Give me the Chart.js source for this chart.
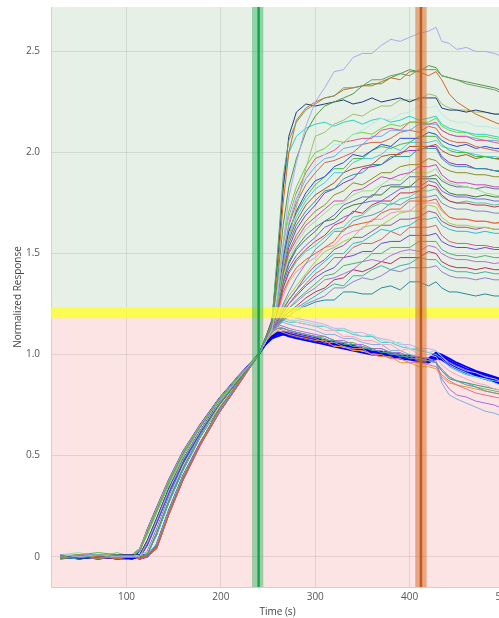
<!DOCTYPE html>
<html>
<head>
<meta charset="utf-8">
<style>
  html, body { margin: 0; padding: 0; background: #ffffff; overflow: hidden; }
  #wrap { width: 520px; height: 618px; }
</style>
<script src="https://cdn.jsdelivr.net/npm/chart.js@4/dist/chart.umd.min.js"></script>
</head>
<body>
<div id="wrap"><canvas id="sensorgram" width="520" height="618"></canvas></div>
<script>
// Sampling times (s) shared by every trace
const TIME = [30,50,70,90,106,114,122,132,145,160,178,198,220,
  240,247,254,260,266,272,280,290,300,310,320,330,340,350,360,370,380,390,400,410,420,428,434,442,450,460,470,480,490,500];

// Axis ticks and reference markers
const X_TICKS = [100, 200, 300, 400, 500];
const Y_TICKS = [0, 0.5, 1, 1.5, 2, 2.5];
const X_RANGE = [20, 500];
const Y_RANGE = [-0.15, 2.72];
const SPLIT_LEVEL = 1.2;
const THRESHOLD_BAND = [1.18, 1.235];
const INJECTION = [233, 245, 240];
const WASH = [406, 418, 412];

// Normalized responses, one array per well
const w01 = [0.01,0.00,0.01,0.00,0.00,0.00,0.07,0.18,0.33,0.48,0.62,0.76,0.89, 1.00,1.06,1.12,1.28,1.55,1.78,1.95,2.13,2.25, 2.32,2.40,2.41,2.47,2.49,2.49,2.53,2.56,2.55,2.57,2.59,2.60, 2.62,2.55,2.54, 2.51,2.52,2.50,2.50,2.49,2.47];
const w02 = [0.00,0.01,-0.01,0.01,0.00,0.03,0.12,0.23,0.37,0.51,0.64,0.78,0.90, 1.00,1.08,1.16,1.50,1.88,2.06,2.15,2.21,2.24, 2.27,2.28,2.32,2.32,2.33,2.36,2.36,2.38,2.39,2.38,2.41,2.41, 2.41,2.38,2.37, 2.36,2.34,2.33,2.32,2.31,2.29];
const w03 = [-0.01,0.00,0.01,0.00,0.00,0.00,0.01,0.12,0.28,0.44,0.60,0.75,0.88, 1.00,1.07,1.14,1.37,1.64,1.83,1.97,2.10,2.18, 2.23,2.25,2.27,2.29,2.33,2.34,2.34,2.37,2.39,2.41,2.40,2.43, 2.42,2.38,2.37, 2.36,2.35,2.34,2.33,2.32,2.30];
const w04 = [0.00,0.01,0.00,-0.01,0.00,0.00,0.00,0.05,0.22,0.39,0.56,0.73,0.87, 1.00,1.07,1.14,1.40,1.75,2.00,2.16,2.22,2.25, 2.27,2.28,2.31,2.32,2.33,2.33,2.35,2.37,2.36,2.40,2.40,2.38, 2.40,2.36,2.29, 2.25,2.22,2.19,2.17,2.15,2.13];
const w05 = [0.01,-0.01,0.00,0.01,0.01,0.01,0.08,0.19,0.34,0.48,0.62,0.75,0.88, 1.00,1.08,1.17,1.45,1.82,2.08,2.20,2.24,2.23, 2.24,2.25,2.26,2.24,2.25,2.27,2.25,2.26,2.27,2.25,2.27,2.27, 2.27,2.22,2.21, 2.21,2.20,2.21,2.20,2.19,2.19];
const w06 = [0.00,0.00,0.01,0.01,0.01,0.04,0.13,0.24,0.38,0.52,0.65,0.78,0.90, 1.00,1.06,1.12,1.25,1.43,1.58,1.73,1.92,2.08, 2.10,2.14,2.16,2.19,2.18,2.21,2.23,2.23,2.26,2.26,2.26,2.29, 2.28,2.24,2.22, 2.21,2.21,2.20,2.20,2.19,2.19];
const w07 = [0.01,0.01,0.00,0.00,0.00,0.01,0.02,0.13,0.29,0.45,0.60,0.74,0.88, 1.00,1.07,1.13,1.31,1.52,1.67,1.79,1.88,1.95, 1.99,2.04,2.04,2.09,2.11,2.14,2.17,2.16,2.19,2.20,2.23,2.22, 2.23,2.19,2.16, 2.15,2.15,2.13,2.13,2.12,2.12];
const w08 = [0.00,-0.01,0.01,0.00,0.01,0.00,0.01,0.06,0.23,0.40,0.56,0.72,0.87, 1.00,1.08,1.15,1.50,1.84,2.00,2.08,2.12,2.14, 2.15,2.13,2.15,2.16,2.14,2.16,2.17,2.15,2.16,2.18,2.16,2.17, 2.18,2.14,2.12, 2.11,2.10,2.09,2.09,2.08,2.07];
const w09 = [0.01,0.00,0.00,0.02,0.00,0.03,0.11,0.22,0.36,0.50,0.64,0.77,0.89, 1.00,1.07,1.14,1.33,1.55,1.71,1.83,1.93,2.00, 2.02,2.06,2.05,2.09,2.10,2.09,2.12,2.14,2.13,2.15,2.15,2.15, 2.17,2.13,2.11, 2.10,2.10,2.08,2.08,2.07,2.06];
const w10 = [-0.01,0.01,0.00,0.01,0.00,0.00,0.07,0.18,0.33,0.48,0.62,0.76,0.89, 1.00,1.06,1.13,1.31,1.53,1.68,1.80,1.90,1.97, 1.99,2.01,2.05,2.06,2.07,2.07,2.11,2.12,2.11,2.15,2.15,2.14, 2.15,2.11,2.09, 2.08,2.08,2.06,2.06,2.05,2.04];
const w11 = [0.00,0.01,0.01,-0.01,0.01,0.00,0.01,0.11,0.27,0.43,0.59,0.74,0.87, 1.00,1.06,1.12,1.30,1.51,1.65,1.77,1.87,1.93, 1.97,1.98,2.02,2.03,2.04,2.08,2.08,2.11,2.11,2.11,2.14,2.14, 2.14,2.11,2.09, 2.08,2.08,2.07,2.06,2.06,2.05];
const w12 = [0.01,0.00,-0.01,0.00,0.00,-0.01,0.00,0.04,0.21,0.38,0.55,0.71,0.86, 1.00,1.07,1.14,1.31,1.50,1.64,1.75,1.84,1.90, 1.95,1.96,1.98,2.00,2.04,2.05,2.05,2.07,2.10,2.11,2.10,2.13, 2.12,2.08,2.06, 2.05,2.05,2.03,2.02,2.01,2.00];
const w13 = [0.00,-0.01,0.00,0.01,0.00,0.00,0.06,0.17,0.32,0.47,0.61,0.76,0.89, 1.00,1.06,1.13,1.29,1.48,1.61,1.71,1.80,1.86, 1.88,1.93,1.95,1.99,1.98,2.01,2.04,2.03,2.07,2.07,2.07,2.10, 2.09,2.06,2.04, 2.03,2.04,2.02,2.03,2.02,2.02];
const w14 = [0.01,0.01,0.02,0.01,0.00,0.03,0.12,0.23,0.37,0.51,0.64,0.78,0.90, 1.00,1.08,1.15,1.30,1.48,1.61,1.70,1.78,1.84, 1.88,1.92,1.92,1.97,1.97,2.01,2.03,2.02,2.04,2.05,2.08,2.08, 2.08,2.04,2.01, 2.00,2.00,1.98,1.98,1.97,1.96];
const w15 = [0.00,0.00,-0.01,0.01,0.00,0.00,0.01,0.12,0.28,0.44,0.60,0.75,0.88, 1.00,1.06,1.12,1.27,1.46,1.58,1.68,1.76,1.82, 1.85,1.90,1.90,1.95,1.97,1.97,1.99,2.03,2.01,2.05,2.05,2.05, 2.06,2.03,2.02, 2.01,2.00,1.99,1.98,1.98,1.97];
const w16 = [0.01,0.01,0.00,0.00,0.00,0.00,0.00,0.05,0.22,0.39,0.56,0.73,0.87, 1.00,1.07,1.13,1.28,1.45,1.57,1.66,1.74,1.79, 1.82,1.85,1.90,1.92,1.93,1.94,1.98,1.99,1.99,2.03,2.03,2.03, 2.04,2.01,1.99, 1.98,1.99,1.97,1.98,1.97,1.97];
const w17 = [0.00,0.01,0.00,0.00,0.01,0.01,0.08,0.19,0.34,0.48,0.62,0.75,0.88, 1.00,1.07,1.14,1.28,1.44,1.55,1.64,1.71,1.76, 1.81,1.82,1.87,1.89,1.90,1.94,1.94,1.98,1.98,1.98,2.02,2.02, 2.02,1.97,1.94, 1.93,1.93,1.92,1.92,1.91,1.91];
const w18 = [-0.01,0.00,0.01,0.00,0.01,0.04,0.13,0.24,0.38,0.52,0.65,0.78,0.90, 1.00,1.06,1.13,1.26,1.42,1.53,1.62,1.69,1.74, 1.80,1.82,1.85,1.87,1.92,1.93,1.94,1.97,2.00,2.01,2.01,2.03, 2.03,1.98,1.95, 1.94,1.94,1.92,1.92,1.91,1.90];
const w19 = [0.01,0.00,0.01,0.01,0.00,0.01,0.02,0.13,0.29,0.45,0.60,0.74,0.88, 1.00,1.07,1.12,1.25,1.40,1.51,1.59,1.66,1.71, 1.74,1.79,1.81,1.85,1.84,1.87,1.90,1.90,1.93,1.94,1.94,1.97, 1.96,1.93,1.91, 1.90,1.90,1.89,1.89,1.88,1.88];
const w20 = [0.00,0.00,0.00,0.01,0.01,0.00,0.01,0.06,0.23,0.40,0.56,0.72,0.87, 1.00,1.06,1.14,1.26,1.40,1.50,1.57,1.64,1.68, 1.72,1.76,1.76,1.81,1.82,1.85,1.88,1.87,1.89,1.90,1.93,1.93, 1.94,1.89,1.86, 1.85,1.85,1.84,1.84,1.83,1.83];
const w21 = [0.01,0.02,0.00,0.01,0.00,0.03,0.11,0.22,0.36,0.50,0.64,0.77,0.89, 1.00,1.07,1.13,1.25,1.38,1.48,1.55,1.62,1.66, 1.70,1.74,1.75,1.79,1.81,1.81,1.84,1.87,1.86,1.90,1.90,1.90, 1.92,1.87,1.85, 1.84,1.83,1.82,1.80,1.79,1.78];
const w22 = [0.00,0.00,0.01,-0.01,0.00,0.00,0.06,0.17,0.32,0.47,0.61,0.76,0.89, 1.00,1.06,1.12,1.23,1.36,1.46,1.53,1.59,1.63, 1.66,1.69,1.74,1.76,1.78,1.78,1.83,1.84,1.84,1.88,1.88,1.88, 1.89,1.86,1.84, 1.83,1.83,1.82,1.83,1.82,1.82];
const w23 = [0.01,0.00,0.00,0.01,0.01,0.00,0.01,0.11,0.27,0.43,0.59,0.74,0.87, 1.00,1.07,1.14,1.24,1.37,1.45,1.52,1.57,1.61, 1.66,1.67,1.72,1.74,1.75,1.79,1.79,1.83,1.83,1.83,1.87,1.87, 1.87,1.83,1.80, 1.79,1.79,1.78,1.79,1.78,1.78];
const w24 = [0.00,0.01,-0.01,0.00,0.00,-0.01,0.00,0.04,0.21,0.38,0.55,0.71,0.86, 1.00,1.06,1.13,1.23,1.35,1.43,1.49,1.54,1.58, 1.63,1.65,1.68,1.70,1.75,1.76,1.76,1.79,1.82,1.83,1.83,1.86, 1.85,1.81,1.79, 1.78,1.78,1.77,1.77,1.76,1.76];
const w25 = [0.01,0.00,0.00,0.00,0.00,0.00,0.07,0.18,0.33,0.48,0.62,0.76,0.89, 1.00,1.06,1.12,1.22,1.33,1.41,1.47,1.52,1.56, 1.59,1.64,1.66,1.71,1.70,1.74,1.76,1.76,1.80,1.80,1.81,1.84, 1.83,1.79,1.76, 1.75,1.75,1.74,1.74,1.73,1.74];
const w26 = [0.00,0.01,0.01,0.00,0.00,0.03,0.12,0.23,0.37,0.51,0.64,0.78,0.90, 1.00,1.07,1.14,1.23,1.33,1.40,1.46,1.51,1.54, 1.58,1.62,1.63,1.68,1.69,1.73,1.75,1.74,1.77,1.78,1.81,1.81, 1.82,1.78,1.76, 1.75,1.76,1.75,1.75,1.74,1.75];
const w27 = [-0.01,0.00,0.00,0.01,0.00,0.00,0.01,0.12,0.28,0.44,0.60,0.75,0.88, 1.00,1.06,1.12,1.18,1.25,1.31,1.38,1.45,1.52, 1.56,1.61,1.61,1.66,1.68,1.69,1.71,1.75,1.74,1.77,1.78,1.78, 1.79,1.75,1.73, 1.72,1.72,1.71,1.71,1.70,1.70];
const w28 = [0.01,0.00,0.01,0.00,0.00,0.00,0.00,0.05,0.22,0.39,0.56,0.73,0.87, 1.00,1.07,1.13,1.21,1.31,1.37,1.43,1.47,1.50, 1.53,1.56,1.62,1.64,1.65,1.66,1.70,1.72,1.72,1.76,1.76,1.76, 1.77,1.72,1.68, 1.67,1.67,1.66,1.66,1.65,1.66];
const w29 = [0.00,0.01,0.00,0.01,0.01,0.01,0.08,0.19,0.34,0.48,0.62,0.75,0.88, 1.00,1.06,1.12,1.20,1.29,1.36,1.41,1.45,1.48, 1.53,1.54,1.59,1.61,1.62,1.67,1.67,1.70,1.71,1.71,1.75,1.75, 1.75,1.71,1.68, 1.67,1.67,1.66,1.66,1.65,1.65];
const w30 = [0.01,0.00,0.01,0.00,0.01,0.04,0.13,0.24,0.38,0.52,0.65,0.78,0.90, 1.00,1.07,1.13,1.18,1.24,1.29,1.34,1.40,1.46, 1.51,1.53,1.56,1.58,1.63,1.64,1.64,1.67,1.70,1.71,1.71,1.74, 1.73,1.68,1.65, 1.64,1.64,1.63,1.63,1.62,1.62];
const w31 = [0.00,-0.01,0.01,0.00,0.00,0.01,0.02,0.13,0.29,0.45,0.60,0.74,0.88, 1.00,1.06,1.12,1.16,1.22,1.27,1.32,1.39,1.44, 1.47,1.52,1.54,1.58,1.58,1.61,1.64,1.64,1.67,1.67,1.68,1.71, 1.70,1.66,1.64, 1.63,1.63,1.62,1.63,1.62,1.62];
const w32 = [0.01,0.01,0.00,0.00,0.01,0.00,0.01,0.06,0.23,0.40,0.56,0.72,0.87, 1.00,1.07,1.14,1.18,1.23,1.27,1.32,1.37,1.42, 1.46,1.50,1.50,1.55,1.56,1.59,1.62,1.61,1.63,1.64,1.67,1.67, 1.68,1.64,1.62, 1.61,1.61,1.60,1.61,1.60,1.60];
const w33 = [0.00,0.00,0.00,0.01,0.00,0.00,0.06,0.17,0.32,0.47,0.61,0.76,0.89, 1.00,1.06,1.12,1.16,1.21,1.25,1.30,1.35,1.40, 1.43,1.48,1.48,1.53,1.55,1.55,1.57,1.61,1.59,1.63,1.63,1.63, 1.64,1.59,1.56, 1.55,1.55,1.54,1.54,1.53,1.53];
const w34 = [0.01,0.00,-0.01,0.01,0.00,0.03,0.11,0.22,0.36,0.50,0.64,0.77,0.89, 1.00,1.07,1.13,1.17,1.21,1.25,1.29,1.34,1.38, 1.41,1.43,1.48,1.49,1.51,1.51,1.55,1.56,1.56,1.59,1.59,1.59, 1.60,1.56,1.54, 1.53,1.53,1.52,1.53,1.52,1.52];
const w35 = [0.00,0.01,0.00,0.00,0.01,0.00,0.01,0.11,0.27,0.43,0.59,0.74,0.87, 1.00,1.06,1.12,1.15,1.19,1.23,1.27,1.31,1.35, 1.39,1.40,1.44,1.45,1.46,1.50,1.50,1.53,1.53,1.53,1.56,1.56, 1.56,1.52,1.50, 1.49,1.49,1.48,1.49,1.48,1.48];
const w36 = [0.01,0.00,0.00,0.01,0.00,-0.01,0.00,0.04,0.21,0.38,0.55,0.71,0.86, 1.00,1.07,1.13,1.16,1.19,1.23,1.26,1.30,1.33, 1.37,1.38,1.40,1.42,1.46,1.47,1.46,1.49,1.51,1.52,1.51,1.54, 1.53,1.50,1.48, 1.47,1.47,1.46,1.46,1.45,1.46];
const w37 = [0.00,0.00,0.01,0.00,0.00,0.00,0.07,0.18,0.33,0.48,0.62,0.76,0.89, 1.00,1.06,1.12,1.15,1.18,1.21,1.24,1.28,1.31, 1.33,1.37,1.38,1.42,1.41,1.43,1.46,1.45,1.48,1.48,1.48,1.51, 1.50,1.46,1.44, 1.43,1.43,1.42,1.43,1.42,1.42];
const w38 = [0.01,0.01,0.00,0.01,0.00,0.03,0.12,0.23,0.37,0.51,0.64,0.78,0.90, 1.00,1.07,1.13,1.15,1.18,1.21,1.23,1.26,1.29, 1.32,1.35,1.34,1.39,1.39,1.42,1.44,1.42,1.44,1.45,1.48,1.47, 1.47,1.44,1.42, 1.41,1.41,1.40,1.41,1.40,1.40];
const w39 = [0.00,0.00,0.01,0.00,0.00,0.00,0.01,0.12,0.28,0.44,0.60,0.75,0.88, 1.00,1.06,1.12,1.14,1.17,1.19,1.22,1.25,1.27, 1.29,1.33,1.33,1.36,1.38,1.37,1.39,1.42,1.41,1.43,1.43,1.43, 1.44,1.41,1.39, 1.38,1.38,1.37,1.38,1.37,1.37];
const w40 = [0.00,0.01,0.00,0.00,0.00,0.00,0.00,0.05,0.22,0.39,0.56,0.73,0.87, 1.00,1.07,1.12,1.14,1.17,1.19,1.22,1.24,1.26, 1.27,1.27,1.31,1.31,1.30,1.30,1.33,1.34,1.32,1.36,1.36,1.34, 1.36,1.33,1.31, 1.31,1.30,1.29,1.30,1.29,1.29];
const w41 = [0.01,0.00,0.00,0.01,0.00,0.03,0.12,0.23,0.37,0.51,0.64,0.78,0.90, 1.00,1.08,1.15,1.18,1.18,1.17,1.17,1.16,1.15, 1.14,1.12,1.13,1.11,1.09,1.10,1.07,1.06,1.06,1.03,1.03,1.01, 1.02,0.99,0.95, 0.93,0.91,0.89,0.88,0.86,0.84];
const w42 = [0.00,0.01,0.01,0.00,0.01,0.01,0.08,0.19,0.34,0.48,0.62,0.75,0.88, 1.00,1.08,1.16,1.19,1.18,1.17,1.16,1.15,1.14, 1.12,1.12,1.09,1.09,1.07,1.07,1.05,1.05,1.02,1.03,1.00,1.00, 0.99,0.95,0.92, 0.90,0.88,0.86,0.85,0.83,0.82];
const w43 = [0.01,0.00,0.01,0.00,0.01,0.00,0.01,0.11,0.27,0.43,0.59,0.74,0.87, 1.00,1.06,1.11,1.13,1.13,1.12,1.11,1.10,1.09, 1.08,1.06,1.06,1.04,1.04,1.02,1.02,1.00,1.00,0.98,0.98,0.97, 0.96,0.92,0.89, 0.87,0.85,0.84,0.82,0.81,0.80];
const w44 = [0.00,0.00,0.01,0.01,0.00,-0.01,0.00,0.04,0.21,0.38,0.55,0.71,0.86, 1.00,1.07,1.12,1.13,1.12,1.11,1.10,1.09,1.08, 1.06,1.06,1.04,1.03,1.03,1.00,1.00,0.98,0.98,0.96,0.96,0.95, 0.94,0.90,0.87, 0.85,0.83,0.81,0.80,0.79,0.78];
const w45 = [0.00,0.01,0.00,0.00,0.00,0.03,0.11,0.22,0.36,0.50,0.64,0.77,0.89, 1.00,1.06,1.10,1.12,1.11,1.10,1.09,1.08,1.07, 1.07,1.04,1.04,1.02,1.02,1.00,0.99,0.99,0.96,0.96,0.94,0.94, 0.93,0.89,0.86, 0.85,0.84,0.83,0.82,0.81,0.80];
const w46 = [0.01,0.00,0.00,0.00,0.00,0.00,0.06,0.17,0.32,0.47,0.61,0.76,0.89, 1.00,1.06,1.11,1.13,1.13,1.12,1.11,1.10,1.09, 1.07,1.07,1.05,1.05,1.03,1.03,1.01,1.01,0.99,0.99,0.97,0.97, 0.96,0.92,0.88, 0.87,0.86,0.85,0.84,0.83,0.82];
const w47 = [0.00,0.00,0.00,0.01,0.00,0.00,0.01,0.12,0.28,0.44,0.60,0.75,0.88, 1.00,1.07,1.13,1.15,1.14,1.13,1.12,1.11,1.10, 1.09,1.07,1.07,1.05,1.05,1.03,1.03,1.01,1.01,0.99,0.99,0.98, 0.97,0.88,0.83, 0.80,0.79,0.77,0.76,0.75,0.73];
const w48 = [0.01,0.00,0.00,0.00,0.00,0.00,0.00,0.05,0.22,0.39,0.56,0.73,0.87, 1.00,1.08,1.14,1.16,1.16,1.15,1.14,1.13,1.12, 1.10,1.10,1.08,1.08,1.06,1.05,1.05,1.02,1.02,1.00,0.99,0.98, 0.96,0.86,0.80, 0.78,0.76,0.74,0.72,0.71,0.69];
const w49 = [0.00,0.00,0.01,0.00,0.01,0.04,0.13,0.24,0.38,0.52,0.65,0.78,0.90, 1.00,1.08,1.15,1.17,1.17,1.16,1.16,1.15,1.14, 1.14,1.12,1.12,1.10,1.09,1.09,1.06,1.06,1.04,1.03,1.02,1.01, 1.00,0.98,0.94, 0.92,0.90,0.89,0.88,0.87,0.86];
const w50 = [0.00,0.01,0.00,0.01,0.00,0.00,0.07,0.18,0.33,0.48,0.62,0.76,0.89, 1.00,1.07,1.12,1.14,1.13,1.12,1.11,1.10,1.09, 1.09,1.07,1.06,1.06,1.04,1.03,1.03,1.01,1.00,1.00,0.98,0.97, 0.96,0.93,0.89, 0.87,0.86,0.84,0.83,0.82,0.81];
const w51 = [0.01,0.00,0.01,0.00,0.00,0.01,0.02,0.13,0.29,0.45,0.60,0.74,0.88, 1.00,1.08,1.17,1.20,1.20,1.19,1.18,1.17,1.16, 1.15,1.13,1.13,1.11,1.11,1.09,1.08,1.07,1.05,1.05,1.03,1.03, 1.02,0.99,0.96, 0.94,0.92,0.91,0.89,0.88,0.86];
// Reference (non-binding) wells
const c01 = [0.00,-0.01,0.00,-0.01,-0.01,0.03,0.13,0.24,0.38,0.52,0.65,0.78,0.90, 1.00,1.05,1.08,1.10,1.11,1.10,1.09,1.08,1.07, 1.06,1.05,1.045,1.03,1.025,1.01,1.01,0.995,0.99,0.985,0.97,0.97, 0.99,0.99,0.96, 0.94,0.92,0.905,0.89,0.875,0.86];
const c02 = [0.00,0.00,-0.01,0.00,0.00,0.00,0.07,0.18,0.33,0.48,0.62,0.76,0.89, 1.00,1.06,1.09,1.10,1.10,1.10,1.10,1.09,1.08, 1.07,1.06,1.05,1.04,1.03,1.02,1.01,1.00,1.00,0.99,0.98,0.975, 1.00,0.995,0.97, 0.95,0.93,0.915,0.90,0.885,0.87];
const c03 = [0.00,-0.01,0.00,0.00,-0.01,0.00,0.02,0.13,0.29,0.45,0.60,0.74,0.88, 1.00,1.05,1.08,1.09,1.10,1.09,1.08,1.07,1.06, 1.05,1.04,1.03,1.02,1.01,1.00,0.995,0.99,0.98,0.975,0.965,0.96, 0.98,0.975,0.95, 0.93,0.91,0.895,0.88,0.865,0.85];
const c04 = [-0.01,0.00,0.00,-0.01,0.00,-0.01,0.00,0.06,0.23,0.40,0.56,0.72,0.87, 1.00,1.06,1.09,1.11,1.11,1.11,1.10,1.09,1.08, 1.07,1.06,1.05,1.045,1.03,1.02,1.015,1.01,1.00,0.995,0.985,0.98, 1.01,1.00,0.98, 0.96,0.94,0.92,0.905,0.89,0.875];
const c05 = [0.00,0.00,-0.01,0.00,-0.01,0.00,0.06,0.17,0.32,0.47,0.61,0.76,0.89, 1.00,1.05,1.08,1.10,1.10,1.10,1.09,1.08,1.07, 1.06,1.055,1.045,1.035,1.025,1.015,1.005,0.995,0.99,0.98,0.97,0.965, 0.985,0.98,0.955, 0.935,0.915,0.90,0.885,0.87,0.855];

const WELLS = [w01,w02,w03,w04,w05,w06,w07,w08,w09,w10,w11,w12,w13,w14,w15,w16,w17,w18,w19,w20,
  w21,w22,w23,w24,w25,w26,w27,w28,w29,w30,w31,w32,w33,w34,w35,w36,w37,w38,w39,w40,
  w41,w42,w43,w44,w45,w46,w47,w48,w49,w50,w51];
const CONTROLS = [c01,c02,c03,c04,c05];

const WELL_COLORS = ['#a9a9f2','#6f9c6f','#4e9a40','#d2691e','#1e3c7c','#a0bf70','#bde8e8','#26d4cc','#62dc3c','#e2558c',
  '#6aa8f0','#d8604a','#2a4ad8','#3cbf3c','#4ec4e8','#a8552a','#2a9a9a','#9a2ac8','#8c8c2a','#d040c0',
  '#98e08a','#6070a0','#3a7a3a','#8060e0','#c83050','#48ccb0','#7a8ab8','#e0602a','#f090c0','#a0d040',
  '#a050a0','#30b8d0','#d06070','#6a4ad0','#50b070','#b070d0','#b03060','#40b0a0','#9080d0','#2a88a0',
  '#90e0d8','#f0a8c0','#7090b0','#e07090','#e0a030','#30a080','#a070e0','#80b0e0','#40d0c0','#70b860','#c0b0f0'];
const CONTROL_COLOR = '#0000ff';

function toPoints(values) {
  return TIME.map((t, i) => ({ x: t, y: values[i] })).filter(p => p.y !== undefined);
}

const datasets = [];
WELLS.forEach((w, i) => datasets.push({
  data: toPoints(w), borderColor: WELL_COLORS[i], borderWidth: 1
}));
CONTROLS.forEach(c => datasets.push({
  data: toPoints(c), borderColor: CONTROL_COLOR, borderWidth: 1.8
}));

// Coloured zones, threshold band and injection / wash markers
const zones = {
  id: 'zones',
  beforeDraw(chart) {
    const { ctx, chartArea: a, scales: { y } } = chart;
    const ys = y.getPixelForValue(SPLIT_LEVEL);
    ctx.save();
    ctx.fillStyle = '#e6f0e6';
    ctx.fillRect(a.left, a.top, a.right - a.left, ys - a.top);
    ctx.fillStyle = '#fde4e4';
    ctx.fillRect(a.left, ys, a.right - a.left, a.bottom - ys);
    ctx.restore();
  },
  afterDatasetsDraw(chart) {
    const { ctx, chartArea: a, scales: { x, y } } = chart;
    ctx.save();
    ctx.beginPath();
    ctx.rect(a.left, a.top, a.right - a.left, a.bottom - a.top);
    ctx.clip();
    const y1 = y.getPixelForValue(THRESHOLD_BAND[1]);
    const y0 = y.getPixelForValue(THRESHOLD_BAND[0]);
    ctx.fillStyle = 'rgba(255,255,40,0.78)';
    ctx.fillRect(a.left, y1, a.right - a.left, y0 - y1);

    const marker = (spec, band, line) => {
      const l = x.getPixelForValue(spec[0]);
      const r = x.getPixelForValue(spec[1]);
      ctx.fillStyle = band;
      ctx.fillRect(l, a.top, r - l, a.bottom - a.top);
      const c = x.getPixelForValue(spec[2]);
      ctx.strokeStyle = line;
      ctx.lineWidth = 2.5;
      ctx.beginPath();
      ctx.moveTo(c, a.top);
      ctx.lineTo(c, a.bottom);
      ctx.stroke();
    };
    marker(INJECTION, 'rgba(40,175,90,0.45)', '#12a84a');
    marker(WASH, 'rgba(215,115,50,0.55)', '#c5581c');
    ctx.restore();
  }
};

const tickFont = { family: "'Open Sans', 'Noto Sans', sans-serif", size: 10 };

new Chart(document.getElementById('sensorgram'), {
  type: 'line',
  data: { datasets },
  options: {
    responsive: false,
    devicePixelRatio: 1,
    animation: false,
    parsing: false,
    normalized: true,
    layout: { padding: { top: 7, right: 16, bottom: 0, left: 0 } },
    elements: { point: { radius: 0 }, line: { tension: 0 } },
    plugins: { legend: { display: false }, tooltip: { enabled: false } },
    scales: {
      x: {
        type: 'linear',
        min: X_RANGE[0], max: X_RANGE[1],
        afterBuildTicks: s => { s.ticks = X_TICKS.map(v => ({ value: v })); },
        afterFit: s => { s.height = 31; },
        ticks: { font: tickFont, color: '#555', padding: 4, maxRotation: 0 },
        grid: { color: 'rgba(0,0,0,0.09)', drawTicks: false },
        border: { display: true, color: '#d0d0d0' },
        title: { display: true, text: 'Time (s)', font: tickFont, color: '#444', padding: { top: 0, bottom: 0 } }
      },
      y: {
        type: 'linear',
        min: Y_RANGE[0], max: Y_RANGE[1],
        afterBuildTicks: s => { s.ticks = Y_TICKS.map(v => ({ value: v })); },
        afterFit: s => { s.width = 51; s.paddingTop = 0; s.paddingBottom = 0; },
        ticks: { font: tickFont, color: '#555', padding: 11 },
        grid: { color: 'rgba(0,0,0,0.09)', drawTicks: false },
        border: { display: true, color: '#d0d0d0' },
        title: { display: true, text: 'Normalized Response', font: tickFont, color: '#444', padding: { top: 12, bottom: 0 } }
      }
    }
  },
  plugins: [zones]
});
</script>
</body>
</html>
